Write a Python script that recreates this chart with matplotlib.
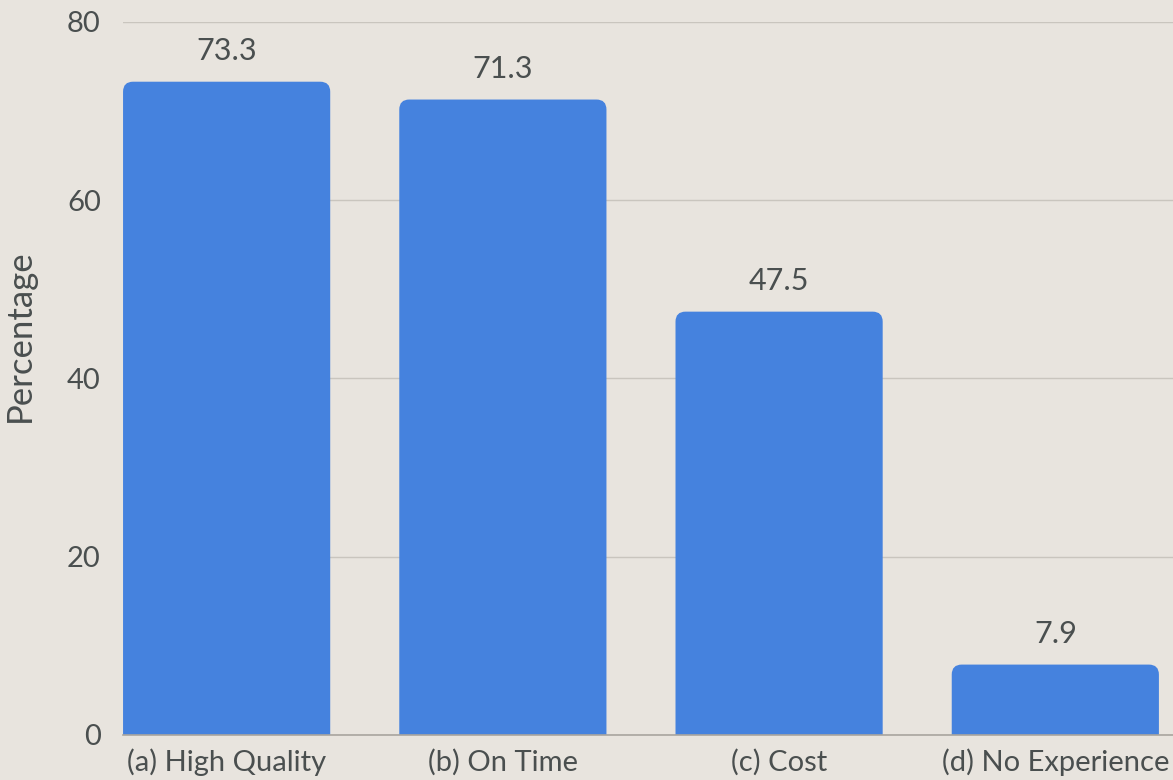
import matplotlib
matplotlib.use("Agg")
import matplotlib.pyplot as plt
from matplotlib.path import Path
from matplotlib.patches import PathPatch

categories = ["(a) High Quality", "(b) On Time", "(c) Cost", "(d) No Experience"]
values = [73.3, 71.3, 47.5, 7.9]
y_ticks = [0, 20, 40, 60, 80]

BG = "#E8E4DE"
BAR = "#4582DE"
TEXT = "#4A4F4F"
GRID = "#C9C5BE"

plt.rcParams["font.family"] = ["Lato", "DejaVu Sans"]

fig = plt.figure(figsize=(11.73, 7.80), dpi=100, facecolor=BG)
ax = fig.add_axes([0.1049, 0.0577, 0.8951, 0.9141], facecolor=BG)

x = list(range(len(categories)))
bars = ax.bar(x, values, width=0.75, color=BAR, zorder=3)

ax.set_xlim(-0.375, 3.426)
ax.set_ylim(0, 80)
ax.set_yticks(y_ticks)
ax.set_xticks(x)
ax.set_xticklabels(categories)

# swap plain rectangles for bars with rounded top corners
fig.canvas.draw()
px_x = ax.transData.transform((1, 0))[0] - ax.transData.transform((0, 0))[0]
px_y = ax.transData.transform((0, 1))[1] - ax.transData.transform((0, 0))[1]
radius_px = 10
for rect in bars.patches:
    x0, w, h = rect.get_x(), rect.get_width(), rect.get_height()
    rx = radius_px / px_x
    ry = min(radius_px / px_y, h)
    x1 = x0 + w
    verts = [
        (x0, 0), (x0, h - ry), (x0, h), (x0 + rx, h),
        (x1 - rx, h), (x1, h), (x1, h - ry), (x1, 0), (x0, 0),
    ]
    codes = [
        Path.MOVETO, Path.LINETO, Path.CURVE3, Path.CURVE3,
        Path.LINETO, Path.CURVE3, Path.CURVE3, Path.LINETO, Path.CLOSEPOLY,
    ]
    ax.add_patch(PathPatch(Path(verts, codes), facecolor=BAR, edgecolor="none", zorder=3))
    rect.set_visible(False)
    ax.annotate(f"{h:.1f}", (x0 + w / 2, h), xytext=(0, 22), textcoords="offset pixels",
                ha="center", va="baseline", fontsize=22, color=TEXT, zorder=4)

ax.grid(axis="y", color=GRID, linewidth=1, zorder=0)
ax.set_axisbelow(True)
for side in ["top", "right", "left"]:
    ax.spines[side].set_visible(False)
ax.spines["bottom"].set_color("#A9A59F")
ax.spines["bottom"].set_linewidth(1.2)
ax.spines["bottom"].set_zorder(5)

ax.tick_params(axis="both", length=0, labelsize=21, labelcolor=TEXT)
ax.tick_params(axis="y", pad=16)
ax.tick_params(axis="x", pad=10)
ax.set_ylabel("Percentage", fontsize=25, color=TEXT)
ax.yaxis.set_label_coords(-0.083, 0.56)

fig.savefig("out.png", dpi=100, facecolor=BG)
